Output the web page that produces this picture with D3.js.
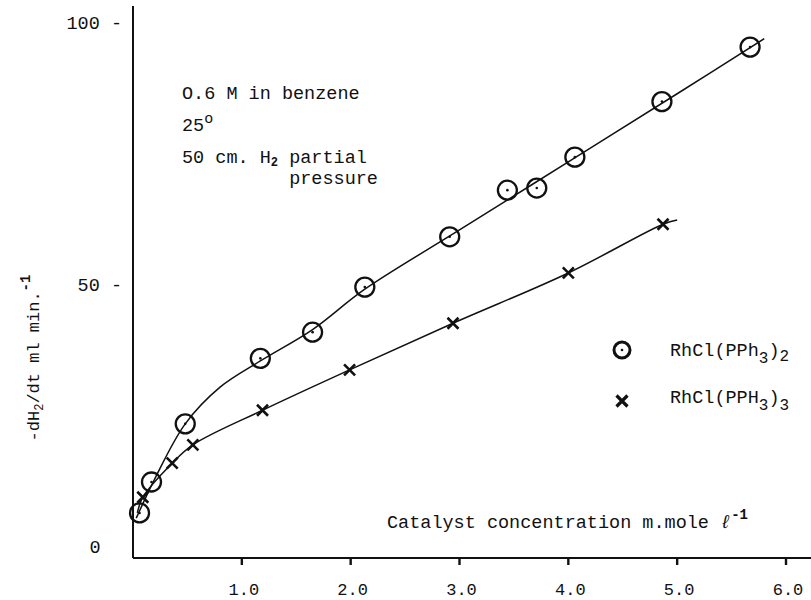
<!DOCTYPE html>
<html>
<head>
<meta charset="utf-8">
<script src="https://cdn.jsdelivr.net/npm/d3@7"></script>
<style>
  body { margin: 0; background: #fff; }
  text { font-family: 'Liberation Mono', 'DejaVu Sans Mono', monospace; fill: #111; }
</style>
</head>
<body>
<div id="chart"></div>
<script>
// RhCl(PPh3)2 -- open circles with a dot
const circleX = [0.06, 0.17, 0.48, 1.17, 1.65, 2.13, 2.91, 3.44, 3.71, 4.06, 4.86, 5.67];
const circleY = [6.5, 12.4, 23.5, 36, 41, 49.6, 59.2, 68.1, 68.5, 74.4, 85, 95.4];
// hand drawn curve through the circles
const circleFitX = [0.03, 0.2, 0.48, 0.8, 1.17, 1.65, 2.13, 3.0, 4.0, 5.0, 5.8];
const circleFitY = [5.5, 13, 23.5, 30.5, 35.5, 41.5, 49.2, 60.5, 73.5, 86.5, 97];

// RhCl(PPH3)3 -- crosses
const crossX = [0.09, 0.36, 0.55, 1.19, 1.99, 2.94, 4.0, 4.87];
const crossY = [9.5, 16, 19.5, 26.1, 33.8, 42.7, 52.3, 61.6];
const crossFitX = [0.04, 0.09, 0.36, 0.55, 1.19, 1.99, 2.94, 4.0, 4.87, 5.0];
const crossFitY = [6.5, 9.5, 16, 19.5, 26.1, 33.8, 42.7, 52.3, 61.6, 62.4];

const xTicks = [1, 2, 3, 4, 5, 6];
const xTickLabels = ['1.0', '2.0', '3.0', '4.0', '5.0', '6.0'];
const yTicks = [0, 50, 100];
const yTickLabels = ['0', '50 -', '100 -'];

const width = 811;
const height = 600;
const fontSize = 18.5;

const svg = d3.select('#chart')
  .append('svg')
  .attr('width', width)
  .attr('height', height);

const x = d3.scaleLinear().domain([0, 6]).range([133, 786]);
const y = d3.scaleLinear().domain([0, 100]).range([547, 23]);
const axisY = 558;

// axes drawn as plain lines, hand-drawn style
svg.append('line')
  .attr('x1', x(0)).attr('x2', width)
  .attr('y1', axisY).attr('y2', axisY)
  .attr('stroke', '#111').attr('stroke-width', 2);

svg.append('line')
  .attr('x1', x(0)).attr('x2', x(0))
  .attr('y1', 6).attr('y2', axisY)
  .attr('stroke', '#111').attr('stroke-width', 2);

// x ticks point down
svg.selectAll('.xtick')
  .data(xTicks)
  .enter()
  .append('line')
  .attr('class', 'xtick')
  .attr('x1', (d) => x(d)).attr('x2', (d) => x(d))
  .attr('y1', axisY).attr('y2', axisY + 7)
  .attr('stroke', '#111').attr('stroke-width', 2.4);

svg.selectAll('.xlabel')
  .data(xTicks)
  .enter()
  .append('text')
  .attr('class', 'xlabel')
  .attr('x', (d) => x(d) + 2)
  .attr('y', 595)
  .attr('text-anchor', 'middle')
  .attr('font-size', '17px')
  .text((d, i) => xTickLabels[i]);

svg.selectAll('.ylabel')
  .data(yTicks)
  .enter()
  .append('text')
  .attr('class', 'ylabel')
  .attr('x', (d) => (d === 0 ? 95 : 122))
  .attr('y', (d) => y(d) + 6)
  .attr('text-anchor', (d) => (d === 0 ? 'middle' : 'end'))
  .attr('font-size', `${fontSize}px`)
  .text((d, i) => yTickLabels[i]);

// y axis title
const yTitle = svg.append('text')
  .attr('transform', 'translate(39,358) rotate(-90)')
  .attr('text-anchor', 'middle')
  .attr('font-size', '17px');
yTitle.append('tspan').text('-dH');
yTitle.append('tspan').attr('font-size', '12px').attr('dy', 4).text('2');
yTitle.append('tspan').attr('dy', -4).text('/dt ml min.');
yTitle.append('tspan').attr('font-size', '14px').attr('font-weight', 'bold').attr('dy', -9).text('-1');

// x axis title
const xTitle = svg.append('text')
  .attr('x', 387)
  .attr('y', 528)
  .attr('font-size', `${fontSize}px`);
xTitle.append('tspan').text('Catalyst concentration m.mole ');
xTitle.append('tspan').attr('font-style', 'italic').text('\u2113');
xTitle.append('tspan').attr('font-size', '14px').attr('font-weight', 'bold').attr('dy', -9).text('-1');

// conditions note
const note = svg.append('g').attr('font-size', `${fontSize}px`);
note.append('text').attr('x', 182).attr('y', 99).text('O.6 M in benzene');
const t25 = note.append('text').attr('x', 182).attr('y', 131);
t25.append('tspan').text('25');
t25.append('tspan').attr('font-size', '15px').attr('dy', -8).text('o');
const tH = note.append('text').attr('x', 182).attr('y', 163);
tH.append('tspan').text('50 cm. H');
tH.append('tspan').attr('font-size', '12px').attr('font-weight', 'bold').attr('dy', 3).text('2');
tH.append('tspan').attr('dy', -3).text(' partial');
// "pressure" sits under "partial"
const partialX = 182 + tH.node().getSubStringLength(0, 10);
note.append('text').attr('x', partialX).attr('y', 184).text('pressure');

// fitted curves
const line = d3.line()
  .x((d) => x(d[0]))
  .y((d) => y(d[1]))
  .curve(d3.curveCatmullRom.alpha(0.5));

svg.append('path')
  .datum(d3.zip(circleFitX, circleFitY))
  .attr('d', line)
  .attr('fill', 'none')
  .attr('stroke', '#111')
  .attr('stroke-width', 1.5);

svg.append('path')
  .datum(d3.zip(crossFitX, crossFitY))
  .attr('d', line)
  .attr('fill', 'none')
  .attr('stroke', '#111')
  .attr('stroke-width', 1.5);

// markers
const drawCircle = (g, cx, cy, r, w) => {
  g.append('circle')
    .attr('cx', cx).attr('cy', cy).attr('r', r)
    .attr('fill', 'none').attr('stroke', '#111').attr('stroke-width', w);
  g.append('circle')
    .attr('cx', cx).attr('cy', cy).attr('r', 1.3)
    .attr('fill', '#111');
};

const drawCross = (g, cx, cy, s, w) => {
  g.append('path')
    .attr('d', `M${cx - s},${cy - s}L${cx + s},${cy + s}M${cx + s},${cy - s}L${cx - s},${cy + s}`)
    .attr('stroke', '#111').attr('stroke-width', w).attr('fill', 'none');
};

const markers = svg.append('g');
d3.zip(circleX, circleY).forEach((d) => drawCircle(markers, x(d[0]), y(d[1]), 9.5, 2.3));
d3.zip(crossX, crossY).forEach((d) => drawCross(markers, x(d[0]), y(d[1]), 5.5, 2.6));

// legend
const legend = svg.append('g');
drawCircle(legend, 622, 350, 8, 3);
drawCross(legend, 622, 401, 5.5, 3.2);
const l1 = legend.append('text').attr('x', 670).attr('y', 356).attr('font-size', `${fontSize}px`);
l1.append('tspan').text('RhCl(PPh');
l1.append('tspan').attr('font-size', '16px').attr('dy', 7).text('3');
l1.append('tspan').attr('dy', -7).text(')');
l1.append('tspan').attr('font-size', '16px').attr('dy', 5).text('2');
const l2 = legend.append('text').attr('x', 670).attr('y', 403).attr('font-size', `${fontSize}px`);
l2.append('tspan').text('RhCl(PPH');
l2.append('tspan').attr('font-size', '16px').attr('dy', 7).text('3');
l2.append('tspan').attr('dy', -7).text(')');
l2.append('tspan').attr('font-size', '16px').attr('dy', 7).text('3');
</script>
</body>
</html>
